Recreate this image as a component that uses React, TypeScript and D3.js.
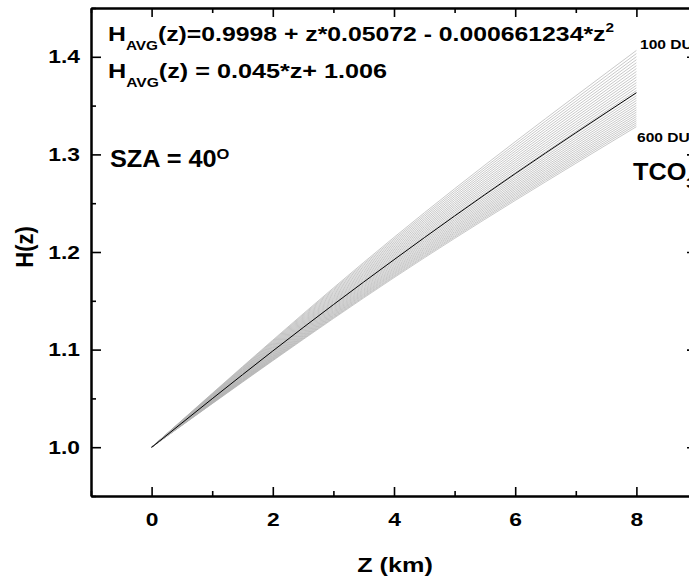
import React, { useEffect, useRef } from 'react';
import * as d3 from 'd3';

// TCO3 levels (DU) of the grey family, top line = 100 DU, bottom = 600 DU
const tcoLevels = [100, 117, 133, 150, 167, 183, 200, 217, 233, 250, 267, 283, 300, 317, 333,
    350, 367, 383, 400, 417, 433, 450, 467, 483, 500, 517, 533, 550, 567, 583, 600];

// each grey line is read at z = 0, 4, 8 km
const lineZ = [0, 4, 8];
const hSurface = 1.0;
const hAt4 = [1.2150, 1.2133, 1.2117, 1.2100, 1.2084, 1.2068, 1.2052, 1.2036, 1.2021, 1.2006,
    1.1991, 1.1976, 1.1962, 1.1947, 1.1933, 1.1919, 1.1905, 1.1892, 1.1879, 1.1866, 1.1853,
    1.1840, 1.1828, 1.1816, 1.1804, 1.1792, 1.1781, 1.1770, 1.1758, 1.1748, 1.1737];
const hAt8 = [1.4065, 1.4033, 1.4001, 1.3970, 1.3939, 1.3909, 1.3879, 1.3849, 1.3820, 1.3792,
    1.3763, 1.3735, 1.3708, 1.3681, 1.3654, 1.3628, 1.3602, 1.3577, 1.3552, 1.3527, 1.3503,
    1.3479, 1.3456, 1.3433, 1.3410, 1.3388, 1.3366, 1.3345, 1.3324, 1.3304, 1.3284];

// average curve (black)
const avgZ = [0, 2, 4, 6, 8];
const avgH = [0.9998, 1.0986, 1.1921, 1.2803, 1.3632];

const xTicks = [0, 2, 4, 6, 8];
const xMinor = [-1, 1, 3, 5, 7, 9];
const yTicks = [1.0, 1.1, 1.2, 1.3, 1.4];
const yMinor = [0.95, 1.05, 1.15, 1.25, 1.35, 1.45];

const FONT = "Arial, 'Liberation Sans', sans-serif";
const SX = 1.2; // the original's lettering is a bit wide

const App = () => {
    const svgRef = useRef<SVGSVGElement>(null);

    useEffect(() => {
        const width = 689;
        const height = 577;
        const left = 91, right = 697, top = 8, bottom = 496;

        const svg = d3.select(svgRef.current)
            .attr('width', width)
            .attr('height', height);
        svg.selectAll('*').remove();

        const x = d3.scaleLinear().domain([-1, 9]).range([left, right]);
        const y = d3.scaleLinear().domain([0.95, 1.45]).range([bottom, top]);

        const plot = svg.append('g');

        // grey family of curves
        const line = d3.line<[number, number]>()
            .x(d => x(d[0]))
            .y(d => y(d[1]))
            .curve(d3.curveNatural);

        tcoLevels.forEach((t, i) => {
            const pts: [number, number][] = [
                [lineZ[0], hSurface],
                [lineZ[1], hAt4[i]],
                [lineZ[2], hAt8[i]]
            ];
            plot.append('path')
                .attr('d', line(pts))
                .attr('fill', 'none')
                .attr('stroke', '#b0b0b0')
                .attr('stroke-width', 0.7);
        });

        // average
        plot.append('path')
            .attr('d', line(avgZ.map((z, i) => [z, avgH[i]] as [number, number])))
            .attr('fill', 'none')
            .attr('stroke', '#000')
            .attr('stroke-width', 1);

        // axes, ticks pointing inward
        const styleAxis = (g: any) => {
            g.select('.domain').attr('stroke-width', 2);
            g.selectAll('.tick line').attr('stroke-width', 1.6);
            g.selectAll('.tick text')
                .attr('font-family', FONT)
                .attr('font-weight', 'bold')
                .attr('font-size', 19)
                .attr('fill', '#000')
                .attr('transform', `scale(${SX},1)`);
        };

        svg.append('g')
            .attr('transform', `translate(0,${bottom})`)
            .call(d3.axisBottom(x).tickValues(xTicks).tickSizeInner(-9).tickSizeOuter(0).tickPadding(17).tickFormat(d3.format('d')))
            .call(styleAxis);
        svg.append('g')
            .attr('transform', `translate(0,${bottom})`)
            .call(d3.axisBottom(x).tickValues(xMinor).tickSizeInner(-5).tickSizeOuter(0).tickFormat(() => ''))
            .call(styleAxis);

        svg.append('g')
            .attr('transform', `translate(0,${top})`)
            .call(d3.axisTop(x).tickValues(xTicks).tickSizeInner(-9).tickSizeOuter(0).tickFormat(() => ''))
            .call(styleAxis);
        svg.append('g')
            .attr('transform', `translate(0,${top})`)
            .call(d3.axisTop(x).tickValues(xMinor).tickSizeInner(-5).tickSizeOuter(0).tickFormat(() => ''))
            .call(styleAxis);

        svg.append('g')
            .attr('transform', `translate(${left},0)`)
            .call(d3.axisLeft(y).tickValues(yTicks).tickSizeInner(-10).tickSizeOuter(0).tickPadding(11 / SX).tickFormat(d3.format('.1f')))
            .call(styleAxis);
        svg.append('g')
            .attr('transform', `translate(${left},0)`)
            .call(d3.axisLeft(y).tickValues(yMinor).tickSizeInner(-5).tickSizeOuter(0).tickFormat(() => ''))
            .call(styleAxis);

        svg.append('g')
            .attr('transform', `translate(${right},0)`)
            .call(d3.axisRight(y).tickValues(yTicks).tickSizeInner(-10).tickSizeOuter(0).tickFormat(() => ''))
            .call(styleAxis);
        svg.append('g')
            .attr('transform', `translate(${right},0)`)
            .call(d3.axisRight(y).tickValues(yMinor).tickSizeInner(-5).tickSizeOuter(0).tickFormat(() => ''))
            .call(styleAxis);

        const txt = (xp: number, yp: number, size: number, sx = SX) => svg.append('text')
            .attr('transform', `translate(${xp},${yp}) scale(${sx},1)`)
            .attr('font-family', FONT)
            .attr('font-weight', 'bold')
            .attr('font-size', size)
            .attr('fill', '#000');

        // axis titles
        txt(395, 572, 21).attr('text-anchor', 'middle').text('Z (km)');
        svg.append('text')
            .attr('transform', 'translate(33,247) rotate(-90) scale(1,1.1)')
            .attr('font-family', FONT)
            .attr('font-weight', 'bold')
            .attr('font-size', 22)
            .attr('text-anchor', 'middle')
            .text('H(z)');

        // formulas
        const f1 = txt(108, 41, 21, 1.18);
        f1.append('tspan').text('H');
        f1.append('tspan').attr('font-size', 13).attr('dy', 9).text('AVG');
        f1.append('tspan').attr('dy', -9).text('(z)=0.9998 + z*0.05072 - 0.000661234*z');
        f1.append('tspan').attr('font-size', 13).attr('dy', -9).text('2');

        const f2 = txt(108, 78, 21, 1.2);
        f2.append('tspan').text('H');
        f2.append('tspan').attr('font-size', 13).attr('dy', 9).text('AVG');
        f2.append('tspan').attr('dy', -9).text('(z) = 0.045*z+ 1.006');

        const sza = txt(110, 167, 23, 1.1);
        sza.append('tspan').text('SZA = 40');
        sza.append('tspan').attr('font-size', 15).attr('dy', -8).text('O');

        // TCO3 labels (cut at the right edge, as in the original)
        txt(640, 49, 13).text('100 DU');
        txt(637, 142, 13).text('600 DU');
        const tco = txt(633, 180, 23, 1.1);
        tco.append('tspan').text('TCO');
        tco.append('tspan').attr('font-size', 15).attr('dy', 8).text('3');
    }, []);

    return (
        <svg ref={svgRef} style={{ position: 'absolute', left: 0, top: 0, background: '#fff' }}></svg>
    );
};

export default App;
